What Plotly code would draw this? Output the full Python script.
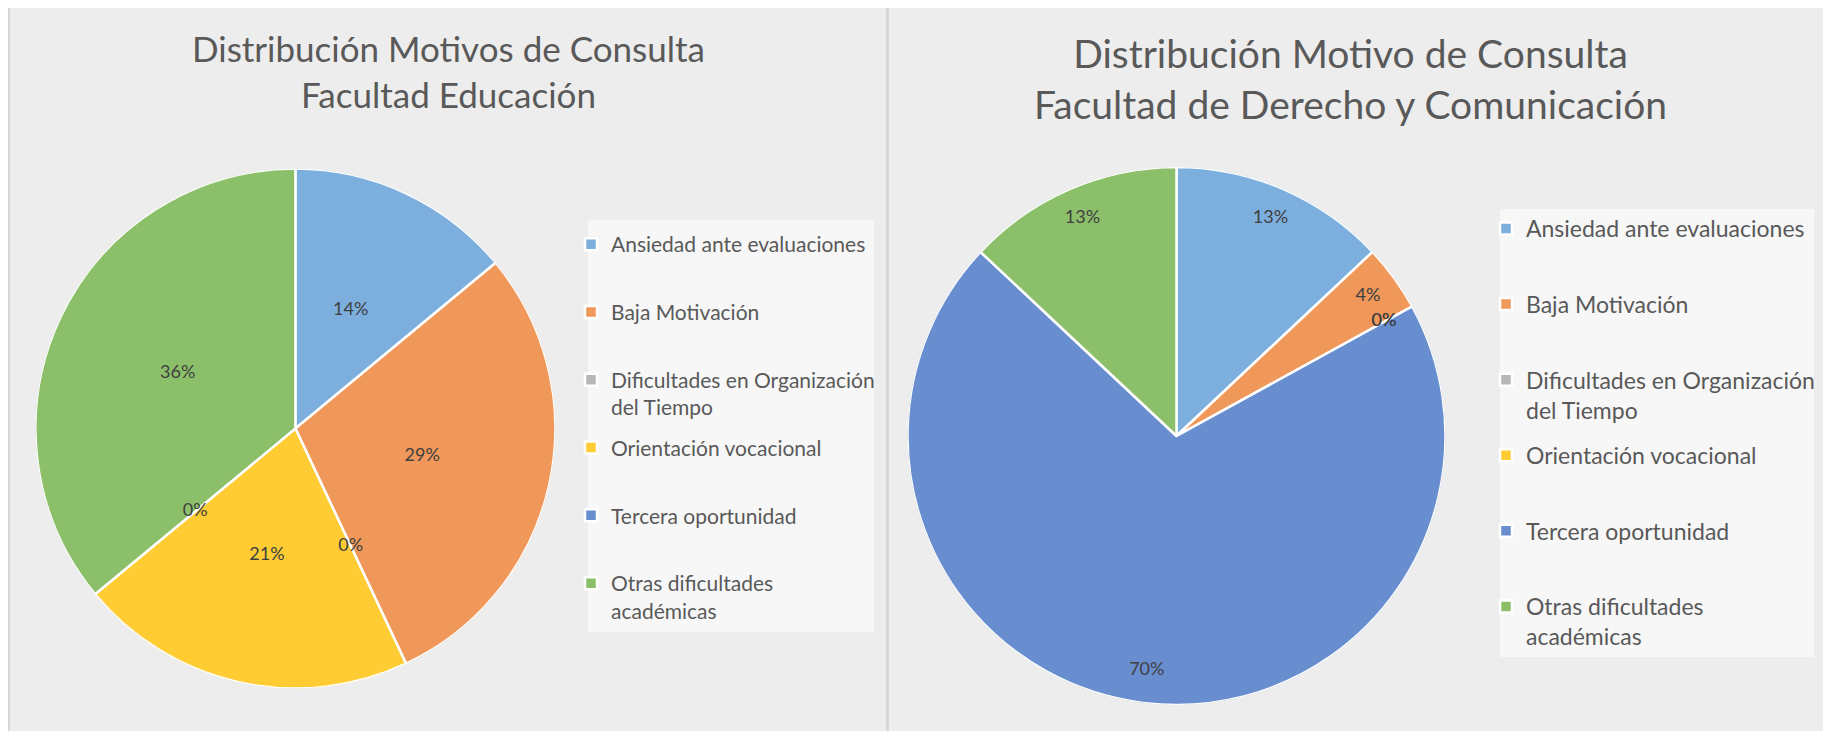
import plotly.graph_objects as go

W, H = 1831, 731
OFF = 8  # page body margin in the browser

# ---------------- data ----------------
categories = [
    "Ansiedad ante evaluaciones",
    "Baja Motivación",
    "Dificultades en Organización del Tiempo",
    "Orientación vocacional",
    "Tercera oportunidad",
    "Otras dificultades académicas",
]
legend_labels = [
    "Ansiedad ante evaluaciones",
    "Baja Motivación",
    "Dificultades en Organización<br>del Tiempo",
    "Orientación vocacional",
    "Tercera oportunidad",
    "Otras dificultades<br>académicas",
]
educacion_pct = [14, 29, 0, 21, 0, 36]
derecho_pct = [13, 4, 0, 0, 70, 13]

title_left = "Distribución Motivos de Consulta<br>Facultad Educación"
title_right = "Distribución Motivo de Consulta<br>Facultad de Derecho y Comunicación"

colors = ["#7CAFDD", "#F0975A", "#B7B7B7", "#FFCC33", "#698ED0", "#8CBF6A"]

FONT = "Lato, 'Open Sans', sans-serif"
TEXT_GRAY = "#595959"
LABEL_GRAY = "#404040"


def px_x(p):
    return (p - OFF) / W


def px_y(p):
    return 1 - (p - OFF) / H


def angles(values):
    total = float(sum(values))
    starts, spans = [], []
    acc = 0.0
    for v in values:
        starts.append(360.0 * acc / total)
        spans.append(360.0 * v / total)
        acc += v
    mids = [s + w / 2 for s, w in zip(starts, spans)]
    return mids, spans


fig = go.Figure()

legend_ids = ["legend"] + [f"legend{i}" for i in range(2, 13)]

charts = [
    dict(values=educacion_pct, polar="polar", label_r=0.5, leg_offset=0,
         leg_x=571, leg_top=244, leg_step=67.8, leg_font=21),
    dict(values=derecho_pct, polar="polar2", label_r=0.88, leg_offset=6,
         leg_x=1486, leg_top=227, leg_step=75.6, leg_font=23),
]

legend_layouts = {}
for ch in charts:
    mids, spans = angles(ch["values"])
    for i, cat in enumerate(categories):
        lid = legend_ids[ch["leg_offset"] + i]
        fig.add_trace(go.Barpolar(
            r=[1], theta=[mids[i]], width=[spans[i]], base=0,
            name=legend_labels[i],
            marker=dict(color=colors[i], line=dict(color="white", width=2.5)),
            subplot=ch["polar"], legend=lid, showlegend=True,
            hovertext=[cat], hoverinfo="text",
        ))
        center_y = ch["leg_top"] + i * ch["leg_step"]
        legend_layouts[lid] = dict(
            x=px_x(ch["leg_x"]), y=px_y(center_y - 20),
            xanchor="left", yanchor="top",
            bgcolor="rgba(0,0,0,0)", borderwidth=0,
            font=dict(family=FONT, size=ch["leg_font"], color=TEXT_GRAY),
            valign="top", itemclick=False, itemdoubleclick=False,
        )
    fig.add_trace(go.Scatterpolar(
        r=[ch["label_r"]] * len(mids), theta=mids, mode="text",
        text=[f"{v}%" for v in ch["values"]],
        textfont=dict(family=FONT, size=18, color=LABEL_GRAY),
        subplot=ch["polar"], showlegend=False, hoverinfo="skip",
    ))

polar_common = dict(
    bgcolor="rgba(0,0,0,0)", hole=0, bargap=0,
    radialaxis=dict(visible=False, range=[0, 1]),
    angularaxis=dict(visible=False, direction="clockwise", rotation=90),
)

shapes = [
    # panel backgrounds
    dict(type="rect", xref="paper", yref="paper", layer="below",
         x0=px_x(10), x1=px_x(886), y0=px_y(740), y1=px_y(7),
         fillcolor="#EDEDED", line=dict(width=0)),
    dict(type="rect", xref="paper", yref="paper", layer="below",
         x0=px_x(889), x1=px_x(1840), y0=px_y(740), y1=px_y(7),
         fillcolor="#EDEDED", line=dict(width=0)),
    # borders
    dict(type="line", xref="paper", yref="paper", layer="below",
         x0=px_x(9), x1=px_x(9), y0=px_y(740), y1=px_y(7),
         line=dict(color="#D6D6D6", width=2)),
    dict(type="line", xref="paper", yref="paper", layer="below",
         x0=px_x(887.5), x1=px_x(887.5), y0=px_y(740), y1=px_y(7),
         line=dict(color="#D6D6D6", width=3)),
    # legend areas
    dict(type="rect", xref="paper", yref="paper", layer="below",
         x0=px_x(588), x1=px_x(874), y0=px_y(632), y1=px_y(220),
         fillcolor="rgba(255,255,255,0.55)", line=dict(width=0)),
    dict(type="rect", xref="paper", yref="paper", layer="below",
         x0=px_x(1500), x1=px_x(1814), y0=px_y(657), y1=px_y(209),
         fillcolor="rgba(255,255,255,0.55)", line=dict(width=0)),
]

annotations = [
    dict(text=title_left, x=px_x(448), y=px_y(25), xref="paper", yref="paper",
         xanchor="center", yanchor="top", showarrow=False,
         font=dict(family=FONT, size=35, color=TEXT_GRAY)),
    dict(text=title_right, x=px_x(1350), y=px_y(28), xref="paper", yref="paper",
         xanchor="center", yanchor="top", showarrow=False,
         font=dict(family=FONT, size=39, color=TEXT_GRAY)),
]

layout = dict(
    width=W, height=H,
    margin=dict(l=0, r=0, t=0, b=0),
    paper_bgcolor="white",
    font=dict(family=FONT, color=TEXT_GRAY),
    polar=dict(domain=dict(x=[px_x(35.4), px_x(555.4)], y=[px_y(688.5), px_y(168.5)]), **polar_common),
    polar2=dict(domain=dict(x=[px_x(907.5), px_x(1445.5)], y=[px_y(705), px_y(167)]), **polar_common),
    shapes=shapes,
    annotations=annotations,
)
layout.update(legend_layouts)
fig.update_layout(**layout)

fig.write_html("out.html")
